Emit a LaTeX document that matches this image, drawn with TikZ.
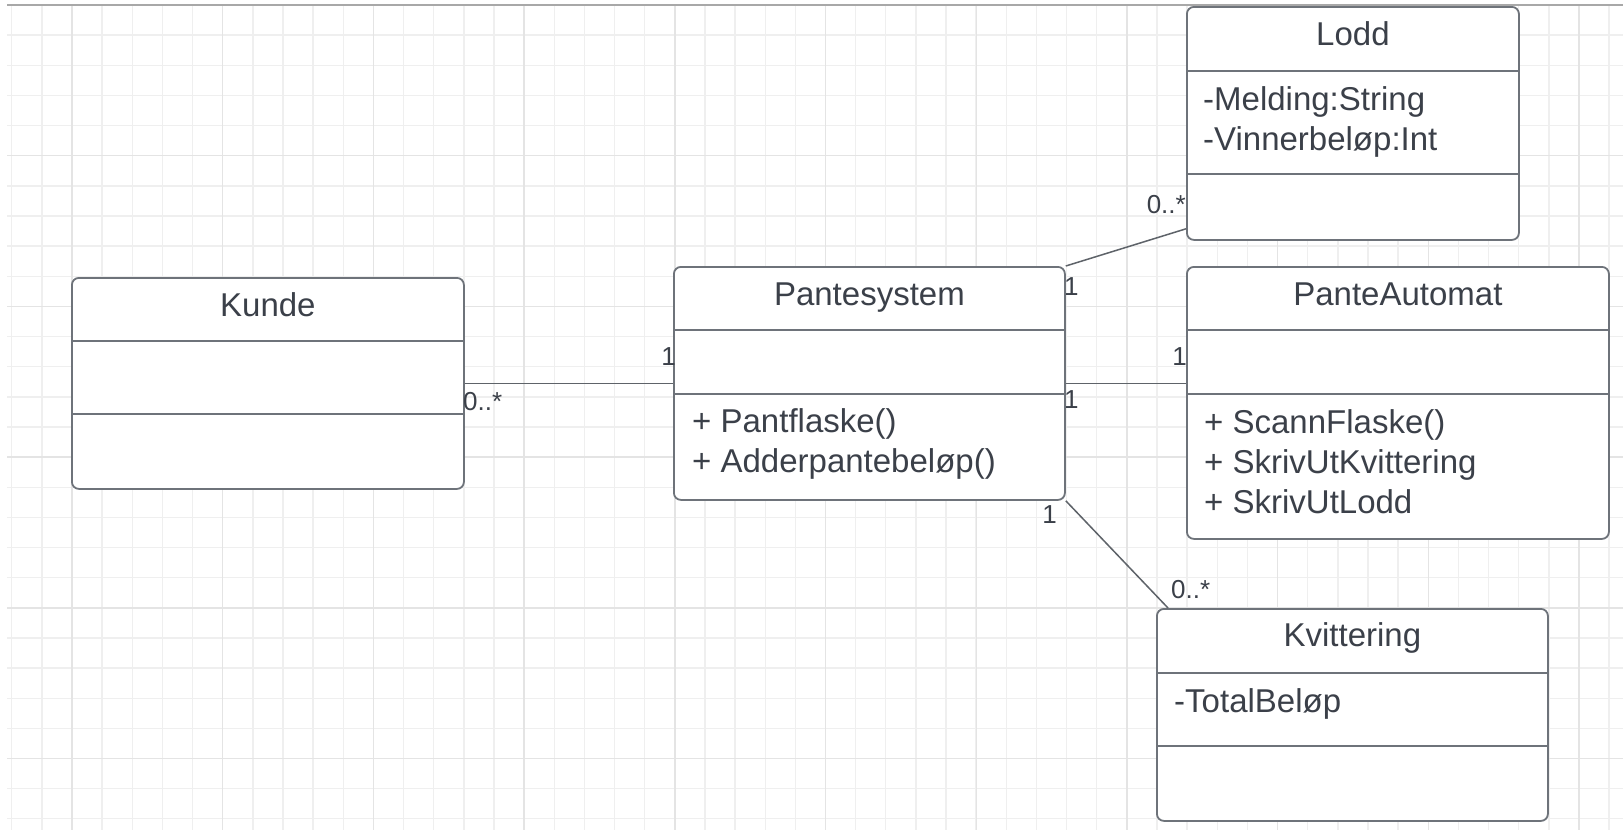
\documentclass[tikz,border=0pt]{standalone}
\usepackage{fontspec}
\setmainfont{Liberation Sans}
\usetikzlibrary{calc}

\definecolor{gridminor}{HTML}{EFEFEF}
\definecolor{gridmajor}{HTML}{E4E4E4}
\definecolor{frameline}{HTML}{A8A8A8}
\definecolor{boxline}{HTML}{6E737A}
\definecolor{inkgray}{HTML}{3B4049}
\definecolor{linkline}{HTML}{5E6369}

\tikzset{
  umlclass/.style={rectangle, draw=boxline, line width=1.8pt, rounded corners=7pt,
    fill=white, inner sep=0pt, anchor=north west},
  divider/.style={draw=boxline, line width=1.8pt},
  classname/.style={font=\fontsize{33}{40}\selectfont, text=inkgray, inner sep=0pt, anchor=base},
  member/.style={font=\fontsize{33}{40}\selectfont, text=inkgray, inner sep=0pt, anchor=base west},
  mult/.style={font=\fontsize{26}{30}\selectfont, text=inkgray, inner sep=0pt},
  assoc/.style={draw=linkline, line width=1.5pt},
}

\begin{document}
\begin{tikzpicture}[x=1pt, y=-1pt]
  \useasboundingbox (0,0) rectangle (1623,830);
  \fill[white] (0,0) rectangle (1623,830);

  % background grid
  \begin{scope}
    \clip (7,5) rectangle (1623,830);
    \foreach \i in {0,...,53}
      \draw[gridminor, line width=1.4pt] ({11.7+30.14*\i},5) -- ++(0,830);
    \foreach \j in {0,...,27}
      \draw[gridminor, line width=1.4pt] (7,{5+30.14*\j}) -- ++(1620,0);
    \foreach \i in {0,...,10}
      \draw[gridmajor, line width=1.4pt] ({72+150.7*\i},5) -- ++(0,830);
    \foreach \j in {1,...,5}
      \draw[gridmajor, line width=1.4pt] (7,{5+150.7*\j}) -- ++(1620,0);
  \end{scope}
  \draw[frameline, line width=2pt] (7,5) -- (1623,5);

  % class boxes
  \node[umlclass, minimum width=392pt, minimum height=211pt] (kunde) at (71,277) {};
  \node[umlclass, minimum width=391pt, minimum height=233pt] (pante) at (673,266) {};
  \node[umlclass, minimum width=422pt, minimum height=272pt] (auto) at (1186,266) {};
  \node[umlclass, minimum width=332pt, minimum height=233pt] (lodd) at (1186,6) {};
  \node[umlclass, minimum width=391pt, minimum height=212pt] (kvit) at (1156,608) {};

  % compartment dividers
  \draw[divider] ([yshift=-64pt]kunde.north west) -- ([yshift=-64pt]kunde.north east);
  \draw[divider] ([yshift=-137pt]kunde.north west) -- ([yshift=-137pt]kunde.north east);
  \draw[divider] ([yshift=-64pt]pante.north west) -- ([yshift=-64pt]pante.north east);
  \draw[divider] ([yshift=-128pt]pante.north west) -- ([yshift=-128pt]pante.north east);
  \draw[divider] ([yshift=-64pt]auto.north west) -- ([yshift=-64pt]auto.north east);
  \draw[divider] ([yshift=-128pt]auto.north west) -- ([yshift=-128pt]auto.north east);
  \draw[divider] ([yshift=-65pt]lodd.north west) -- ([yshift=-65pt]lodd.north east);
  \draw[divider] ([yshift=-168pt]lodd.north west) -- ([yshift=-168pt]lodd.north east);
  \draw[divider] ([yshift=-65pt]kvit.north west) -- ([yshift=-65pt]kvit.north east);
  \draw[divider] ([yshift=-138pt]kvit.north west) -- ([yshift=-138pt]kvit.north east);

  % class names
  \node[classname] (kundeName) at ($(kunde.north)+(0,39)$) {Kunde};
  \node[classname] (panteName) at ($(pante.north)+(0,39)$) {Pantesystem};
  \node[classname] (autoName)  at ($(auto.north)+(0,39)$) {PanteAutomat};
  \node[classname] (loddName)  at ($(lodd.north)+(0,39)$) {Lodd};
  \node[classname] (kvitName)  at ($(kvit.north)+(0,38)$) {Kvittering};

  % attributes and operations
  \node[member] (loddA1) at ($(lodd.north west)+(17,104)$) {-Melding:String};
  \node[member] (loddA2) at ($(lodd.north west)+(17,144)$) {-Vinnerbeløp:Int};
  \node[member] (panteM1) at ($(pante.north west)+(19,166)$) {+ Pantflaske()};
  \node[member] (panteM2) at ($(pante.north west)+(19,206)$) {+ Adderpantebeløp()};
  \node[member] (autoM1) at ($(auto.north west)+(18,167)$) {+ ScannFlaske()};
  \node[member] (autoM2) at ($(auto.north west)+(18,207)$) {+ SkrivUtKvittering};
  \node[member] (autoM3) at ($(auto.north west)+(18,247)$) {+ SkrivUtLodd};
  \node[member] (kvitA1) at ($(kvit.north west)+(18,104)$) {-TotalBeløp};

  % associations
  \draw[assoc] (kunde.east) -- (pante.west);
  \draw[assoc] (pante.north east) -- ([yshift=12pt]lodd.south west);
  \draw[assoc] (pante.east) -- (pante.east -| auto.west);
  \draw[assoc] (pante.south east) -- ([xshift=12pt]kvit.north west);

  % multiplicities
  \node[mult, anchor=base west] (mKunde)   at (463,410)  {0..*};
  \node[mult, anchor=base east] (mPanteK)  at (676,365)  {1};
  \node[mult, anchor=base west] (mPanteL)  at (1064,295) {1};
  \node[mult, anchor=base east] (mLodd)    at (1186,213) {0..*};
  \node[mult, anchor=base west] (mPanteA)  at (1064,408) {1};
  \node[mult, anchor=base east] (mAuto)    at (1187,365) {1};
  \node[mult, anchor=base east] (mPanteKv) at (1057,523) {1};
  \node[mult, anchor=base west] (mKvit)    at (1171,598) {0..*};
\end{tikzpicture}
\end{document}
